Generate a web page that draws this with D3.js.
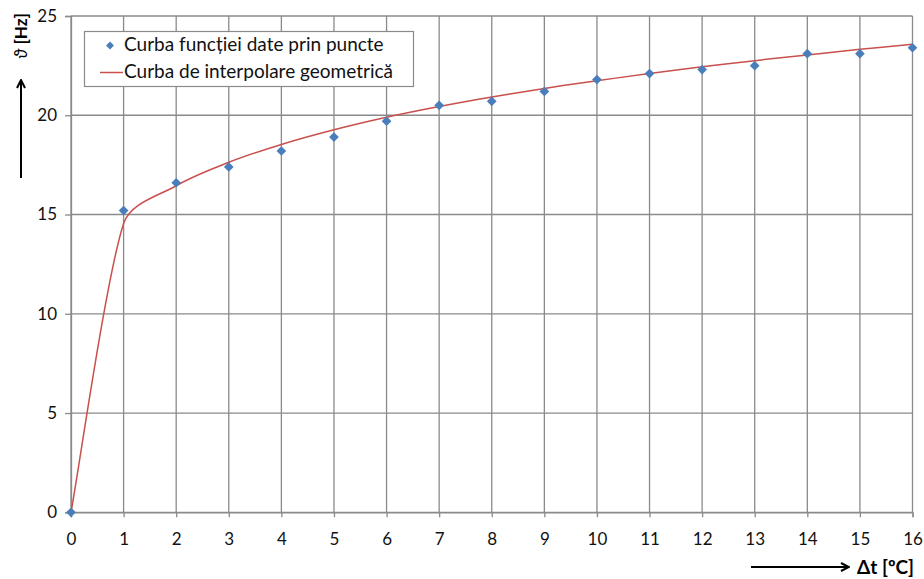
<!DOCTYPE html>
<html>
<head>
<meta charset="utf-8">
<script src="https://cdn.jsdelivr.net/npm/d3@7"></script>
<style>
  html, body { margin: 0; padding: 0; background: #fff; }
  svg { display: block; }
  text { font-family: Lato, "Open Sans", sans-serif; }
</style>
</head>
<body>
<svg id="chart" width="924" height="579"></svg>
<script>
// Temperature difference (°C) on the horizontal axis
const deltaT = [0, 1, 2, 3, 4, 5, 6, 7, 8, 9, 10, 11, 12, 13, 14, 15, 16];
// Measured frequency (Hz) at each temperature difference
const measured = [0, 15.2, 16.6, 17.4, 18.2, 18.9, 19.7, 20.5, 20.7, 21.2, 21.8, 22.1, 22.3, 22.5, 23.1, 23.1, 23.4];
// Geometric (power-law) interpolation evaluated at the same abscissae
const fitted = [0, 14.55, 16.45, 17.63, 18.53, 19.27, 19.9, 20.44, 20.92, 21.35, 21.74, 22.1, 22.44, 22.75, 23.04, 23.32, 23.58];

const xTicks = [0, 1, 2, 3, 4, 5, 6, 7, 8, 9, 10, 11, 12, 13, 14, 15, 16];
const yTicks = [0, 5, 10, 15, 20, 25];

const seriesNames = ["Curba funcției date prin puncte", "Curba de interpolare geometrică"];

const svg = d3.select("#chart");
const gridColor = "#8a8a8a";
const pointColor = "#4a7ebb";
const lineColor = "#c8504d";

const x = d3.scaleLinear().domain([0, 16]).range([71, 912.5]);
const y = d3.scaleLinear().domain([0, 25]).range([512.3, 16]);

// Smoothed line: Catmull-Rom tangents, with each Bezier handle limited
// to a third of the segment it belongs to (keeps short segments from bulging).
function SmoothCapped(context) { this._context = context; }
SmoothCapped.prototype = {
  areaStart() { this._line = 0; },
  areaEnd() { this._line = NaN; },
  lineStart() { this._pts = []; },
  point(px, py) { this._pts.push([+px, +py]); },
  lineEnd() {
    const p = this._pts, n = p.length, c = this._context;
    if (!n) return;
    c.moveTo(p[0][0], p[0][1]);
    const cap = (v, len) => {
      const m = Math.hypot(v[0], v[1]);
      return m > len ? [v[0] * len / m, v[1] * len / m] : v;
    };
    for (let i = 0; i < n - 1; i++) {
      const a = p[i], b = p[i + 1];
      const prev = p[i - 1] || a, next = p[i + 2] || b;
      const seg = Math.hypot(b[0] - a[0], b[1] - a[1]) / 3;
      const t1 = cap([(b[0] - prev[0]) / 6, (b[1] - prev[1]) / 6], seg);
      const t2 = cap([(next[0] - a[0]) / 6, (next[1] - a[1]) / 6], seg);
      c.bezierCurveTo(a[0] + t1[0], a[1] + t1[1], b[0] - t2[0], b[1] - t2[1], b[0], b[1]);
    }
  }
};
const smoothCapped = ctx => new SmoothCapped(ctx);

// Grid
const grid = svg.append("g");
grid.selectAll("line.v").data(xTicks).join("line")
  .attr("x1", d => x(d)).attr("x2", d => x(d))
  .attr("y1", y(25)).attr("y2", y(0))
  .attr("stroke", gridColor).attr("stroke-width", 1.3);
grid.selectAll("line.h").data(yTicks).join("line")
  .attr("x1", x(0)).attr("x2", x(16))
  .attr("y1", d => y(d)).attr("y2", d => y(d))
  .attr("stroke", gridColor).attr("stroke-width", 1.3);

// Axes
const xAxis = d3.axisBottom(x).tickValues(xTicks).tickSize(5).tickPadding(16).tickFormat(d3.format("d"));
const yAxis = d3.axisLeft(y).tickValues(yTicks).tickSize(6).tickPadding(8).tickFormat(d3.format("d"));

const gx = svg.append("g").attr("transform", `translate(0,${y(0)})`).call(xAxis);
const gy = svg.append("g").attr("transform", `translate(${x(0)},0)`).call(yAxis);
[gx, gy].forEach(g => {
  g.select(".domain").attr("stroke", gridColor).attr("stroke-width", 1.3);
  g.selectAll(".tick line").attr("stroke", gridColor).attr("stroke-width", 1.3);
  g.selectAll(".tick text").attr("fill", "#111").style("font-size", "17px")
    .style("font-family", "Lato, 'Open Sans', sans-serif");
});

// Interpolation curve
const pts = deltaT.map((d, i) => [d, fitted[i]]);
svg.append("path")
  .datum(pts)
  .attr("fill", "none")
  .attr("stroke", lineColor)
  .attr("stroke-width", 1.5)
  .attr("d", d3.line().x(d => x(d[0])).y(d => y(d[1])).curve(smoothCapped));

// Measured points
const diamond = d3.symbol().type(d3.symbolDiamond2).size(60);
svg.append("g").selectAll("path").data(deltaT.map((d, i) => [d, measured[i]])).join("path")
  .attr("d", diamond)
  .attr("transform", d => `translate(${x(d[0])},${y(d[1])})`)
  .attr("fill", pointColor);

// Legend
const lg = svg.append("g");
lg.append("rect").attr("x", 84.5).attr("y", 31.5).attr("width", 329).attr("height", 55)
  .attr("fill", "#fff").attr("stroke", gridColor).attr("stroke-width", 1.2);
lg.append("path").attr("d", d3.symbol().type(d3.symbolDiamond2).size(40))
  .attr("transform", "translate(110,45.5)").attr("fill", pointColor);
lg.append("line").attr("x1", 100).attr("x2", 123).attr("y1", 72.5).attr("y2", 72.5)
  .attr("stroke", lineColor).attr("stroke-width", 1.5);
lg.selectAll("text").data(seriesNames).join("text")
  .attr("x", 124).attr("y", (d, i) => 51 + i * 27)
  .style("font-size", "19px").attr("fill", "#111")
  .text(d => d);

// Axis titles with arrows
const defs = svg.append("defs");
defs.append("marker").attr("id", "arrow").attr("viewBox", "0 0 10 10")
  .attr("refX", 9).attr("refY", 5).attr("markerWidth", 10).attr("markerHeight", 10)
  .attr("markerUnits", "userSpaceOnUse").attr("orient", "auto")
  .append("path").attr("d", "M1,1 L9,5 L1,9").attr("fill", "none").attr("stroke", "#000").attr("stroke-width", 2);

svg.append("line").attr("x1", 751).attr("x2", 849).attr("y1", 567).attr("y2", 567)
  .attr("stroke", "#000").attr("stroke-width", 2).attr("marker-end", "url(#arrow)");
svg.append("text").attr("x", 857).attr("y", 574)
  .style("font-size", "19px").style("font-weight", "bold").attr("fill", "#000")
  .text("Δt [ºC]");

svg.append("line").attr("x1", 21).attr("x2", 21).attr("y1", 178).attr("y2", 80)
  .attr("stroke", "#000").attr("stroke-width", 2).attr("marker-end", "url(#arrow)");
svg.append("text").attr("transform", "translate(27,36) rotate(-90)")
  .attr("text-anchor", "middle")
  .style("font-size", "17px").style("font-weight", "bold").attr("fill", "#000")
  .html('<tspan font-style="italic" font-weight="normal">ϑ</tspan> [Hz]');
</script>
</body>
</html>
